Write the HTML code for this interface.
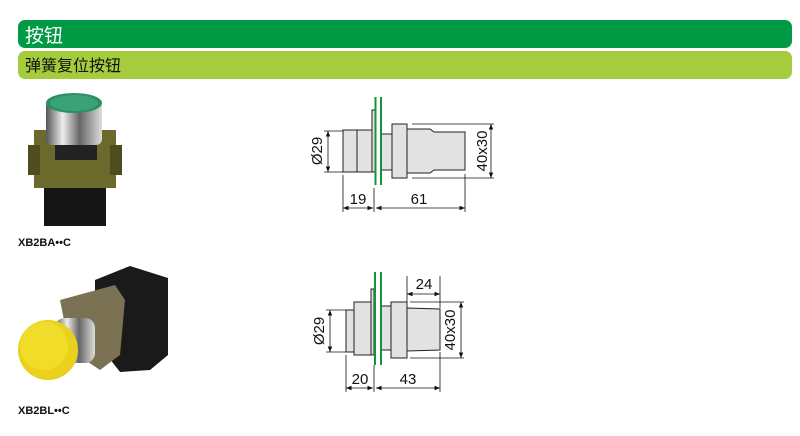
<!DOCTYPE html>
<html><head><meta charset="utf-8"><style>
html,body{margin:0;padding:0;background:#fff;width:800px;height:436px;overflow:hidden}
svg{display:block}
text{font-family:"Liberation Sans","Noto Sans CJK SC",sans-serif}
</style></head><body>
<svg width="800" height="436" viewBox="0 0 800 436" xmlns="http://www.w3.org/2000/svg">
<defs>
<marker id="a" viewBox="0 0 10 10" refX="10" refY="5" markerWidth="7" markerHeight="7" orient="auto-start-reverse"><path d="M0,1 L10,5 L0,9 z" fill="#111"/></marker>
<linearGradient id="chrome" x1="0" x2="1"><stop offset="0" stop-color="#555"/><stop offset=".3" stop-color="#eee"/><stop offset=".6" stop-color="#666"/><stop offset="1" stop-color="#ddd"/></linearGradient>
</defs>
<rect x="18" y="20" width="774" height="28" rx="7" fill="#009a44"/>
<text x="25" y="42" font-size="19" fill="#fff">按钮</text>
<rect x="18" y="51" width="774" height="28" rx="7" fill="#a5cc3d"/>
<text x="25" y="71" font-size="16" fill="#111">弹簧复位按钮</text>

<!-- photo 1 -->
<rect x="34" y="130" width="82" height="58" fill="#6b6a2c"/>
<rect x="28" y="145" width="12" height="30" fill="#4d4d1e"/>
<rect x="110" y="145" width="12" height="30" fill="#4d4d1e"/>
<rect x="44" y="188" width="62" height="38" fill="#151515"/>
<rect x="55" y="136" width="42" height="24" fill="#222"/>
<rect x="46" y="100" width="56" height="45" rx="6" fill="url(#chrome)"/>
<ellipse cx="74" cy="103" rx="28" ry="10" fill="#2a8f63"/>
<ellipse cx="74" cy="103" rx="24" ry="8" fill="#3aa277"/>
<text x="18" y="246" font-size="11" font-weight="bold" fill="#111">XB2BA••C</text>

<!-- photo 2 -->
<polygon points="95,280 130,266 168,278 168,355 150,370 120,372 95,340" fill="#1a1a1a"/>
<polygon points="60,300 115,285 125,300 120,355 100,370 70,350" fill="#7a7252"/>
<rect x="55" y="318" width="40" height="45" rx="10" fill="url(#chrome)"/>
<ellipse cx="48" cy="350" rx="30" ry="30" fill="#e8d21e"/>
<ellipse cx="44" cy="346" rx="24" ry="24" fill="#f2dc2a"/>
<text x="18" y="414" font-size="11" font-weight="bold" fill="#111">XB2BL••C</text>

<!-- diagram 1 -->
<g stroke="#222" stroke-width="1" fill="#e2e2e2">
<rect x="372" y="110" width="3" height="62"/>
<rect x="343" y="130" width="29" height="42"/>
<line x1="357" y1="130" x2="357" y2="172"/>
<rect x="381" y="134" width="12" height="36"/>
<rect x="392" y="124" width="15" height="54"/>
<polygon points="407,129 430,129 434,132 465,132 465,170 434,170 430,173 407,173"/>
</g>
<line x1="375.5" y1="97" x2="375.5" y2="185" stroke="#12963c" stroke-width="2"/>
<line x1="381" y1="97" x2="381" y2="185" stroke="#12963c" stroke-width="2"/>
<g stroke="#111" stroke-width="0.8" fill="none">
<line x1="412" y1="124" x2="494" y2="124"/><line x1="412" y1="178" x2="494" y2="178"/>
<line x1="491" y1="124" x2="491" y2="178" marker-start="url(#a)" marker-end="url(#a)"/>
<line x1="324" y1="131" x2="343" y2="131"/><line x1="324" y1="172" x2="343" y2="172"/>
<line x1="328" y1="131" x2="328" y2="172" marker-start="url(#a)" marker-end="url(#a)"/>
<line x1="343" y1="175" x2="343" y2="212"/><line x1="374" y1="188" x2="374" y2="212"/><line x1="465" y1="174" x2="465" y2="212"/>
<line x1="343" y1="208" x2="373" y2="208" marker-start="url(#a)" marker-end="url(#a)"/>
<line x1="376" y1="208" x2="465" y2="208" marker-start="url(#a)" marker-end="url(#a)"/>
</g>
<g font-size="15" fill="#111">
<text x="358" y="204" text-anchor="middle">19</text>
<text x="419" y="204" text-anchor="middle">61</text>
<text transform="translate(322,151) rotate(-90)" text-anchor="middle">Ø29</text>
<text transform="translate(487,151) rotate(-90)" text-anchor="middle">40x30</text>
</g>

<!-- diagram 2 -->
<g stroke="#222" stroke-width="1" fill="#e2e2e2">
<rect x="371" y="289" width="3" height="66"/>
<rect x="346" y="310" width="8" height="42"/>
<rect x="354" y="302" width="17" height="53"/>
<rect x="381" y="306" width="10" height="44"/>
<rect x="391" y="302" width="16" height="56"/>
<polygon points="407,308 440,309 440,350 407,351"/>
</g>
<line x1="375" y1="272" x2="375" y2="365" stroke="#12963c" stroke-width="2"/>
<line x1="381" y1="272" x2="381" y2="365" stroke="#12963c" stroke-width="2"/>
<g stroke="#111" stroke-width="0.8" fill="none">
<line x1="407" y1="276" x2="407" y2="302"/><line x1="440" y1="276" x2="440" y2="308"/>
<line x1="407" y1="294" x2="440" y2="294" marker-start="url(#a)" marker-end="url(#a)"/>
<line x1="410" y1="302" x2="464" y2="302"/><line x1="410" y1="358" x2="464" y2="358"/>
<line x1="461" y1="302" x2="461" y2="358" marker-start="url(#a)" marker-end="url(#a)"/>
<line x1="326" y1="310" x2="346" y2="310"/><line x1="326" y1="352" x2="346" y2="352"/>
<line x1="330" y1="310" x2="330" y2="352" marker-start="url(#a)" marker-end="url(#a)"/>
<line x1="346" y1="355" x2="346" y2="392"/><line x1="374" y1="365" x2="374" y2="392"/><line x1="440" y1="352" x2="440" y2="392"/>
<line x1="346" y1="388" x2="373" y2="388" marker-start="url(#a)" marker-end="url(#a)"/>
<line x1="376" y1="388" x2="440" y2="388" marker-start="url(#a)" marker-end="url(#a)"/>
</g>
<g font-size="15" fill="#111">
<text x="360" y="384" text-anchor="middle">20</text>
<text x="408" y="384" text-anchor="middle">43</text>
<text x="424" y="289" text-anchor="middle">24</text>
<text transform="translate(324,331) rotate(-90)" text-anchor="middle">Ø29</text>
<text transform="translate(455,330) rotate(-90)" text-anchor="middle">40x30</text>
</g>
</svg>
</body></html>
